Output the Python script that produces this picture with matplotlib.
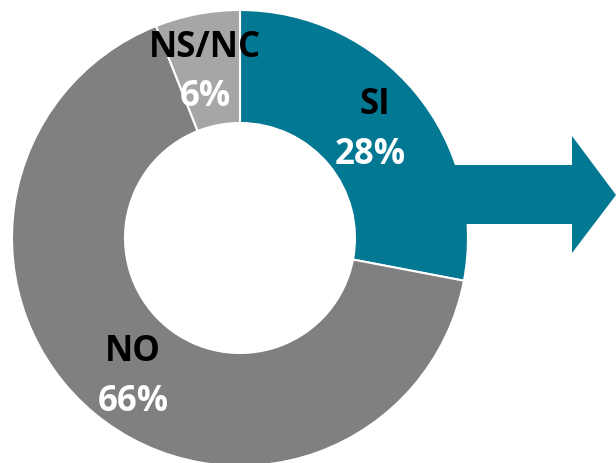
import matplotlib
matplotlib.use("Agg")
import matplotlib.pyplot as plt
from matplotlib.patches import Polygon

# data
labels = ["SI", "NO", "NS/NC"]
values = [28, 66, 6]
colors = ["#037893", "#808080", "#A6A6A6"]

W, H = 616, 463
fig = plt.figure(figsize=(W / 100, H / 100), dpi=100)
ax = fig.add_axes([0, 0, 1, 1])

cx, cy, r = 240, H - 238, 228

wedges, _ = ax.pie(values, colors=colors, startangle=90, counterclock=False,
                   center=(cx, cy), radius=r, frame=True,
                   wedgeprops=dict(width=113, edgecolor="white", linewidth=1.5))
for w in wedges:
    w.set_zorder(1)

# arrow on top of the ring, starts inside the teal slice
arrow = Polygon([(440, H - 165), (572, H - 165), (572, H - 136), (616, H - 195),
                 (572, H - 253), (572, H - 224), (440, H - 224)],
                closed=True, facecolor=colors[0], edgecolor="none", zorder=2)
ax.add_patch(arrow)

fnt = ["Open Sans", "DejaVu Sans"]
lab_pos = [(375, 105), (133, 352), (205, 48)]
pct_pos = [(370, 155), (133, 402), (205, 97)]
for lab, v, (lx, ly), (px, py) in zip(labels, values, lab_pos, pct_pos):
    ax.text(lx, H - ly, lab, ha="center", va="center", fontsize=25,
            fontweight="bold", family=fnt, color="black", zorder=3)
    ax.text(px, H - py, f"{v}%", ha="center", va="center", fontsize=25,
            fontweight="bold", family=fnt, color="white", zorder=3)

ax.set_xlim(0, W)
ax.set_ylim(0, H)
ax.set_aspect("equal")
ax.axis("off")

fig.savefig("out.png", dpi=100)
